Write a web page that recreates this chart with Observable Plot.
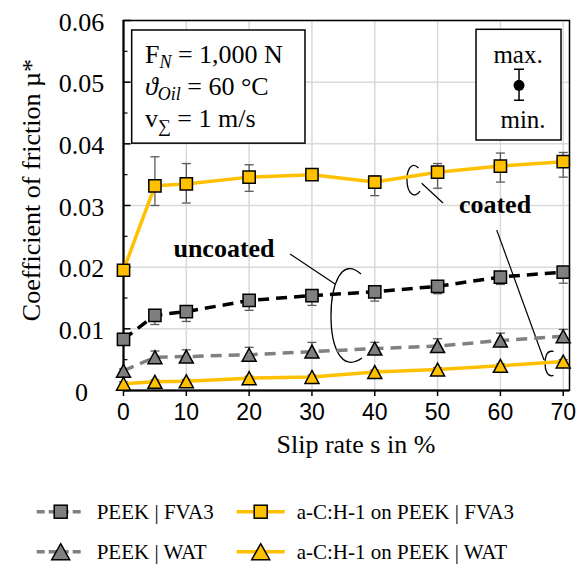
<!DOCTYPE html>
<html>
<head>
<meta charset="utf-8">
<script src="https://cdn.jsdelivr.net/npm/d3@7"></script>
<script src="https://cdn.jsdelivr.net/npm/@observablehq/plot@0.6"></script>
<style>
html,body{margin:0;padding:0;background:#fff;}
#wrap{width:587px;height:567px;overflow:hidden;}
#wrap svg{display:block;}
</style>
</head>
<body>
<div id="wrap"></div>
<script>
// ---------------- data ----------------
const slip = [0, 5, 10, 20, 30, 40, 50, 60, 70];

const peekFVA3    = [0.0083, 0.0122, 0.0128, 0.0146, 0.0154, 0.0160, 0.0169, 0.0184, 0.0192];
const peekFVA3Min = [0.0079, 0.0107, 0.0112, 0.0130, 0.0138, 0.0145, 0.0157, 0.0172, 0.0174];
const peekFVA3Max = [0.0087, 0.0130, 0.0136, 0.0154, 0.0162, 0.0168, 0.0177, 0.0192, 0.0200];

const peekWAT     = [0.0032, 0.0054, 0.0055, 0.0058, 0.0063, 0.0068, 0.0072, 0.0081, 0.0088];
const peekWATMin  = [0.0028, 0.0048, 0.0049, 0.0052, 0.0057, 0.0062, 0.0066, 0.0075, 0.0082];
const peekWATMax  = [0.0035, 0.0064, 0.0066, 0.0070, 0.0078, 0.0078, 0.0084, 0.0093, 0.0099];

const coatFVA3    = [0.0195, 0.0332, 0.0335, 0.0346, 0.0350, 0.0338, 0.0354, 0.0364, 0.0371];
const coatFVA3Min = [0.0191, 0.0300, 0.0304, 0.0323, 0.0344, 0.0316, 0.0328, 0.0338, 0.0346];
const coatFVA3Max = [0.0199, 0.0379, 0.0368, 0.0366, 0.0356, 0.0348, 0.0368, 0.0385, 0.0386];

const coatWAT     = [0.0011, 0.0014, 0.0015, 0.0020, 0.0022, 0.0030, 0.0034, 0.0040, 0.0047];
const coatWATMin  = [0.0008, 0.0011, 0.0012, 0.0017, 0.0019, 0.0027, 0.0031, 0.0037, 0.0044];
const coatWATMax  = [0.0014, 0.0017, 0.0018, 0.0023, 0.0025, 0.0033, 0.0037, 0.0043, 0.0050];

const xTicks = [0, 10, 20, 30, 40, 50, 60, 70];
const yTicks = [0, 0.01, 0.02, 0.03, 0.04, 0.05, 0.06];
const yTickLabels = ["0", "0.01", "0.02", "0.03", "0.04", "0.05", "0.06"];
const yMinorTicks = [0.005, 0.015, 0.025, 0.035, 0.045, 0.055];

const xTitle = "Slip rate s in %";
const yTitle = "Coefficient of friction \u00B5*";
const seriesNames = ["PEEK | FVA3", "PEEK | WAT", "a-C:H-1 on PEEK | FVA3", "a-C:H-1 on PEEK | WAT"];

// ---------------- styles ----------------
const YELLOW = "#FFC000", GRAY = "#7f7f7f", ERR = "#595959";
const SERIF = "'Liberation Serif', 'Times New Roman', serif";
const SANS = "'Liberation Sans', Arial, sans-serif";

const squareSym = {draw(c, size) { const h = Math.sqrt(size) / 2; c.moveTo(-h, -h); c.lineTo(h, -h); c.lineTo(h, h); c.lineTo(-h, h); c.closePath(); }};
const triSym = {draw(c, size) { const s = Math.sqrt(size); const w = s * 0.54, h = s * 0.5; c.moveTo(0, -h); c.lineTo(w, h); c.lineTo(-w, h); c.closePath(); }};
const capSym = {draw(c) { c.moveTo(-4.5, 0); c.lineTo(4.5, 0); }};
const tickRight = (L) => ({draw(c) { c.moveTo(0, 0); c.lineTo(L, 0); }});
const tickDown = (L) => ({draw(c) { c.moveTo(0, 0); c.lineTo(0, L); }});

const rowsOf = (v, lo, hi) => slip.map((s, i) => ({s, v: v[i], lo: lo[i], hi: hi[i]}));
const series = [
  {name: seriesNames[0], rows: rowsOf(peekFVA3, peekFVA3Min, peekFVA3Max), line: "#000000", dash: "11,7", fill: GRAY, sym: squareSym, r: 6.9},
  {name: seriesNames[1], rows: rowsOf(peekWAT, peekWATMin, peekWATMax), line: "#808080", dash: "11,7", fill: GRAY, sym: triSym, r: 7.3},
  {name: seriesNames[2], rows: rowsOf(coatFVA3, coatFVA3Min, coatFVA3Max), line: YELLOW, dash: null, fill: YELLOW, sym: squareSym, r: 6.9},
  {name: seriesNames[3], rows: rowsOf(coatWAT, coatWATMin, coatWATMax), line: YELLOW, dash: null, fill: YELLOW, sym: triSym, r: 7.3}
];

// annotation anchors (data coordinates)
const infoBoxLeft  = {x1: 1.38, x2: 28.97, y1: 0.05838, y2: 0.04003};
const infoBoxRight = {x1: 56.2, x2: 69.73, y1: 0.05849, y2: 0.04054};
const labelUncoated = {x: 16.08, y: 0.02157, text: "uncoated"};
const labelCoated   = {x: 59.22, y: 0.02870, text: "coated"};
const leaders = [
  {x1: 26.6, y1: 0.02205, x2: 33.75, y2: 0.01719},
  {x1: 50.94, y1: 0.03032, x2: 47.55, y2: 0.03352},
  {x1: 59.49, y1: 0.02595, x2: 67.02, y2: 0.00486}
];
const brackets = [
  {x: 35.5, y: 0.0120, d: "M15,-42 C-5,-60 -15,-30 -15,0 C-15,30 -5,57 16,42"},
  {x: 46.25, y: 0.03389, d: "M5,-13 C-3,-21 -7,-9 -6.5,0.5 C-6,11 0,19 6.5,10"},
  {x: 67.9, y: 0.0043, d: "M4,-12 C-4,-14 -4.5,-4 -4.5,0 C-4.5,6 -2.5,14 4,12"}
];

function annotations(index, scales) {
  const X = scales.x, Y = scales.y;
  const g = d3.create("svg:g").attr("text-anchor", "start");
  // info boxes
  for (const b of [infoBoxLeft, infoBoxRight]) {
    g.append("rect").attr("x", X(b.x1)).attr("y", Y(b.y1))
      .attr("width", X(b.x2) - X(b.x1)).attr("height", Y(b.y2) - Y(b.y1))
      .attr("fill", "white").attr("stroke", "black").attr("stroke-width", 1.5);
  }
  const lx = X(infoBoxLeft.x1) + 13.3, ly = Y(infoBoxLeft.y1);
  const mk = (y) => g.append("text").attr("x", lx).attr("y", ly + y).attr("text-anchor", "start")
    .attr("font-family", SERIF).attr("font-size", 26).attr("fill", "black");
  let t = mk(33);
  t.append("tspan").text("F");
  t.append("tspan").attr("font-style", "italic").attr("font-size", 18).attr("dy", 5).text("N");
  t.append("tspan").attr("dy", -5).text(" = 1,000 N");
  t = mk(65);
  t.append("tspan").attr("font-style", "italic").text("\u03D1");
  t.append("tspan").attr("font-style", "italic").attr("font-size", 18).attr("dy", 5).text("Oil");
  t.append("tspan").attr("dy", -5).text(" = 60 \u00B0C");
  t = mk(97);
  t.append("tspan").text("v");
  t.append("tspan").attr("font-size", 18).attr("dy", 5).text("\u2211");
  t.append("tspan").attr("dy", -5).text(" = 1 m/s");

  const rx = (X(infoBoxRight.x1) + X(infoBoxRight.x2)) / 2, ry = Y(infoBoxRight.y1);
  g.append("text").attr("x", rx - 0.5).attr("y", ry + 34).attr("text-anchor", "middle")
    .attr("font-family", SERIF).attr("font-size", 25).text("max.");
  g.append("text").attr("x", rx + 4.5).attr("y", ry + 99).attr("text-anchor", "middle")
    .attr("font-family", SERIF).attr("font-size", 25).text("min.");
  const ex = rx + 0.5;
  g.append("path").attr("d", `M${ex},${ry + 40}V${ry + 71}M${ex - 5},${ry + 40}H${ex + 5}M${ex - 5},${ry + 71}H${ex + 5}`)
    .attr("stroke", "black").attr("stroke-width", 1.5).attr("fill", "none");
  g.append("circle").attr("cx", ex).attr("cy", ry + 56).attr("r", 5.5).attr("fill", "black");

  // group labels
  for (const l of [labelUncoated, labelCoated]) {
    g.append("text").attr("x", X(l.x)).attr("y", Y(l.y)).attr("text-anchor", "middle")
      .attr("font-family", SERIF).attr("font-size", 26).attr("font-weight", "bold").text(l.text);
  }
  for (const l of leaders) {
    g.append("line").attr("x1", X(l.x1)).attr("y1", Y(l.y1)).attr("x2", X(l.x2)).attr("y2", Y(l.y2))
      .attr("stroke", "black").attr("stroke-width", 1.2);
  }
  for (const b of brackets) {
    g.append("path").attr("transform", `translate(${X(b.x)},${Y(b.y)})`).attr("d", b.d)
      .attr("fill", "none").attr("stroke", "black").attr("stroke-width", 1.3);
  }
  return g.node();
}

const marks = [
  Plot.gridX(xTicks, {stroke: "#d9d9d9", strokeOpacity: 1, strokeWidth: 1.5}),
  Plot.gridY(yTicks, {stroke: "#d9d9d9", strokeOpacity: 1, strokeWidth: 1.5}),
  Plot.frame({stroke: "black", strokeWidth: 1.5}),
  Plot.ruleX([0], {stroke: "black", strokeWidth: 2}),
  Plot.ruleY([0], {stroke: "black", strokeWidth: 2}),
  Plot.dot(yTicks, {y: d => d, frameAnchor: "left", symbol: tickRight(7), stroke: "black", strokeWidth: 1.5, fill: "none"}),
  Plot.dot(yMinorTicks, {y: d => d, frameAnchor: "left", symbol: tickRight(4), stroke: "black", strokeWidth: 1.2, fill: "none"}),
  Plot.dot(xTicks, {x: d => d, frameAnchor: "bottom", symbol: tickDown(5.5), stroke: "black", strokeWidth: 1.5, fill: "none"}),
  annotations
];

for (const s of series) {
  marks.push(Plot.ruleX(s.rows, {x: "s", y1: "lo", y2: "hi", stroke: ERR, strokeWidth: 1.3}));
  marks.push(Plot.dot(s.rows, {x: "s", y: "lo", symbol: capSym, stroke: ERR, strokeWidth: 1.3, fill: "none"}));
  marks.push(Plot.dot(s.rows, {x: "s", y: "hi", symbol: capSym, stroke: ERR, strokeWidth: 1.3, fill: "none"}));
}
for (const s of series) {
  marks.push(Plot.line(s.rows, {x: "s", y: "v", stroke: s.line, strokeWidth: 3.5, strokeDasharray: s.dash, strokeLinecap: "butt"}));
}
for (const s of series) {
  marks.push(Plot.dot(s.rows, {x: "s", y: "v", symbol: s.sym, r: s.r, fill: s.fill, stroke: "black", strokeWidth: 1.5}));
}

// axis labels
marks.push(Plot.text(yTicks, {y: d => d, text: (d, i) => yTickLabels[i], frameAnchor: "left", dx: -42, dy: 2, textAnchor: "middle", fontFamily: SERIF, fontSize: 26, fill: "black"}));
marks.push(Plot.text(xTicks, {x: d => d, text: d => String(d), frameAnchor: "bottom", dy: 29, textAnchor: "middle", fontFamily: SANS, fontSize: 23, fill: "black"}));
marks.push(Plot.text([yTitle], {y: () => 0.0325, frameAnchor: "left", dx: -92, rotate: -90, textAnchor: "middle", fontFamily: SERIF, fontSize: 26, fill: "black"}));
marks.push(Plot.text([xTitle], {x: () => 37, frameAnchor: "bottom", dy: 62, textAnchor: "middle", fontFamily: SERIF, fontSize: 26, fill: "black"}));

const chart = Plot.plot({
  width: 587,
  height: 470,
  marginLeft: 123,
  marginRight: 18,
  marginTop: 20,
  marginBottom: 80,
  x: {domain: [0, 71], axis: null},
  y: {domain: [0, 0.06], axis: null},
  style: {background: "white", overflow: "visible"},
  marks
});
document.getElementById("wrap").appendChild(chart);

// ---------------- legend ----------------
const legendItems = [
  {s: series[0], x: 36.7, row: 0},
  {s: series[2], x: 236.7, row: 0},
  {s: series[1], x: 36.7, row: 1},
  {s: series[3], x: 236.7, row: 1}
];
const leg = d3.select("#wrap").append("svg").attr("width", 587).attr("height", 97)
  .style("display", "block").style("background", "white");
for (const it of legendItems) {
  const cy = it.row === 0 ? 41.7 : 81.7;
  const isCoated = it.s.fill === YELLOW;
  leg.append("line").attr("x1", it.x).attr("x2", it.x + 48).attr("y1", cy).attr("y2", cy)
    .attr("stroke", isCoated ? YELLOW : "#808080").attr("stroke-width", 3.5)
    .attr("stroke-dasharray", isCoated ? null : "8,4");
  const cx = it.x + 24;
  if (it.s.sym === squareSym) {
    leg.append("rect").attr("x", cx - 6.5).attr("y", cy - 6.5).attr("width", 13).attr("height", 13)
      .attr("fill", it.s.fill).attr("stroke", "black").attr("stroke-width", 1.5);
  } else {
    leg.append("path").attr("d", `M${cx},${cy - 8}L${cx + 9},${cy + 8}L${cx - 9},${cy + 8}Z`)
      .attr("fill", it.s.fill).attr("stroke", "black").attr("stroke-width", 1.5);
  }
  leg.append("text").attr("x", it.x + 60).attr("y", cy + 7).attr("font-family", SERIF)
    .attr("font-size", 21).attr("fill", "black").attr("text-anchor", "start").text(it.s.name);
}
</script>
</body>
</html>
